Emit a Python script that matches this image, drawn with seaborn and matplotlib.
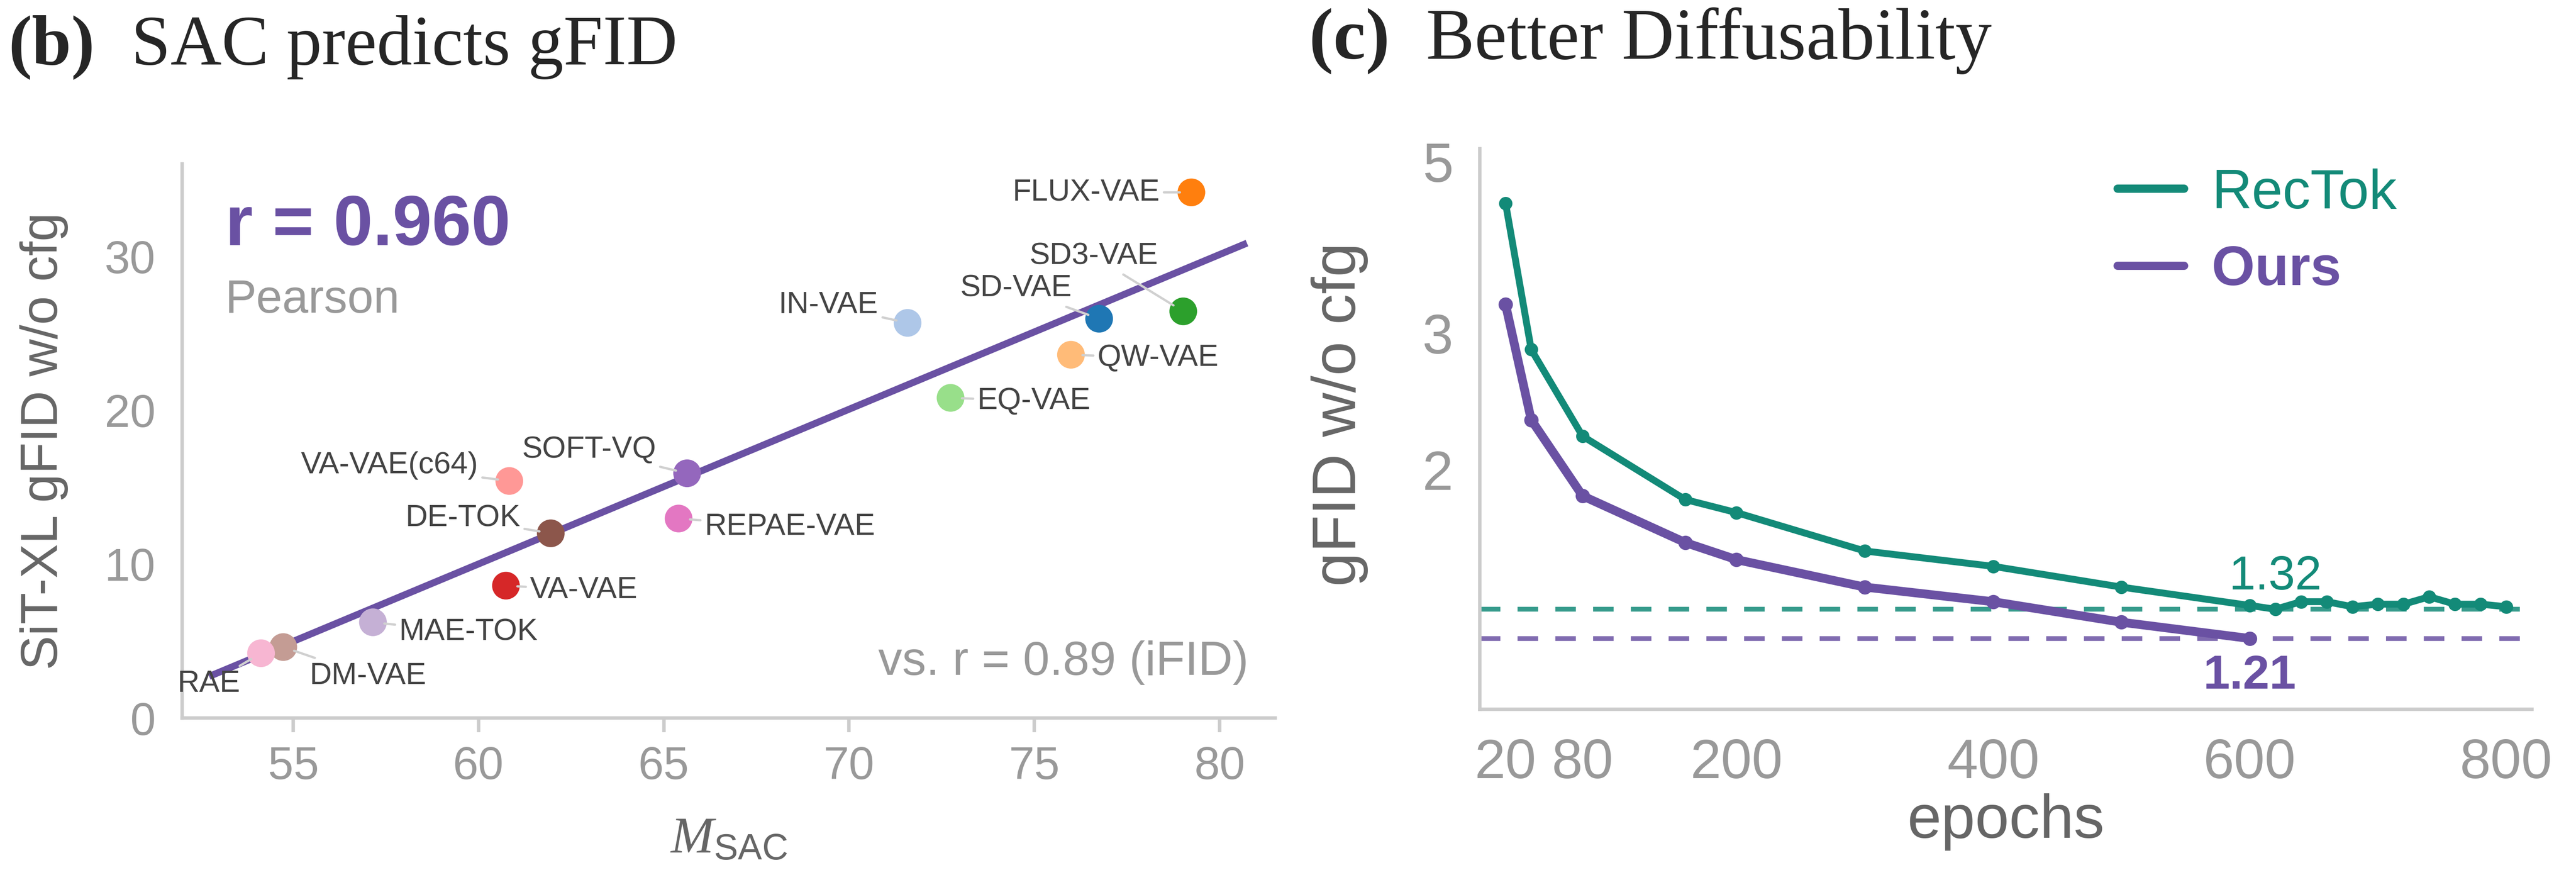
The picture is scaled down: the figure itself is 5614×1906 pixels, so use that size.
import matplotlib
matplotlib.use("Agg")
import matplotlib.pyplot as plt
from matplotlib.lines import Line2D
from matplotlib.ticker import NullLocator
import numpy as np
import pandas as pd
import seaborn as sns

# ---- panel (b): SAC vs gFID ----
names = ["SD-VAE", "IN-VAE", "FLUX-VAE", "QW-VAE", "SD3-VAE", "EQ-VAE", "VA-VAE",
         "VA-VAE(c64)", "SOFT-VQ", "MAE-TOK", "DE-TOK", "DM-VAE", "REPAE-VAE", "RAE"]
m_sac = [76.75, 71.58, 79.24, 75.99, 79.02, 72.74, 60.74,
         60.83, 65.63, 57.15, 61.95, 54.73, 65.40, 54.13]
gfid = [25.94, 25.67, 34.15, 23.6, 26.42, 20.8, 8.6,
        15.4, 15.9, 6.22, 12.0, 4.61, 12.96, 4.21]

# where each name label sits (data coords)
label_xy = {
    "FLUX-VAE": (76.4, 34.15), "SD3-VAE": (76.6, 30.0), "SD-VAE": (74.5, 27.9),
    "IN-VAE": (69.45, 26.8), "QW-VAE": (78.34, 23.4), "EQ-VAE": (74.99, 20.6),
    "SOFT-VQ": (62.98, 17.43), "REPAE-VAE": (68.4, 12.4), "VA-VAE(c64)": (57.6, 16.4),
    "DE-TOK": (59.58, 12.96), "VA-VAE": (62.84, 8.3), "MAE-TOK": (59.73, 5.55),
    "DM-VAE": (57.02, 2.72), "RAE": (52.72, 2.2),
}

# ---- panel (c): diffusability ----
epochs_rectok = [20, 40, 80, 160, 200, 300, 400, 500, 600, 620, 640, 660, 680,
                 700, 720, 740, 760, 780, 800]
gfid_rectok = [4.42, 2.86, 2.21, 1.83, 1.76, 1.57, 1.50, 1.41, 1.335, 1.32, 1.35,
               1.35, 1.33, 1.34, 1.34, 1.37, 1.34, 1.34, 1.33]
epochs_ours = [20, 40, 80, 160, 200, 300, 400, 500, 600]
gfid_ours = [3.27, 2.32, 1.85, 1.61, 1.53, 1.41, 1.35, 1.27, 1.21]
best_rectok = 1.32
best_ours = 1.21
x_ticks_c = [20, 80, 200, 400, 600, 800]
y_ticks_c = [2, 3, 5]

PURPLE = "#6a51a3"
TEAL = "#138a78"
SPINE = "#cccccc"
TICK = "#999999"
LABEL = "#666666"

sns.set_theme(style="white")
plt.rcParams["font.family"] = ["Liberation Sans", "DejaVu Sans"]
plt.rcParams["mathtext.fontset"] = "custom"
plt.rcParams["mathtext.it"] = "Liberation Serif:italic"
plt.rcParams["mathtext.rm"] = "Liberation Serif"
plt.rcParams["mathtext.sf"] = "Liberation Sans"

fig = plt.figure(figsize=(5614 / 300, 1906 / 300), dpi=300)
ax1 = fig.add_axes([0.0707, 0.1794, 0.4243, 0.6333])
ax2 = fig.add_axes([0.5745, 0.1894, 0.4084, 0.6406])

for ax in (ax1, ax2):
    for s in ("top", "right"):
        ax.spines[s].set_visible(False)
    for s in ("left", "bottom"):
        ax.spines[s].set_color(SPINE)
        ax.spines[s].set_linewidth(1.8)

# ---------- (b) ----------
df = pd.DataFrame({"name": names, "m_sac": m_sac, "gfid": gfid})
pal = dict(zip(names, sns.color_palette("tab20", len(names))))

x = np.array(m_sac)
y = np.array(gfid)
k, b = np.polyfit(x, y, 1)
xl = np.array([x.min() - 1.4, x.max() + 1.5])
ax1.plot(xl, k * xl + b, color=PURPLE, lw=3.6, zorder=2, solid_capstyle="butt")

sns.scatterplot(data=df, x="m_sac", y="gfid", hue="name", palette=pal, s=210,
                linewidth=0, legend=False, zorder=3, ax=ax1)

for n, xv, yv in zip(names, m_sac, gfid):
    tx, ty = label_xy[n]
    ax1.annotate(n, xy=(xv, yv), xytext=(tx, ty), ha="center", va="center",
                 fontsize=16, color="#444444", zorder=4,
                 arrowprops=dict(arrowstyle="-", color="#d0d0d0", lw=1.2,
                                 shrinkA=0, shrinkB=6))

ax1.set_xlim(52, 81.5)
ax1.set_ylim(0, 36)
ax1.set_xticks([55, 60, 65, 70, 75, 80])
ax1.set_yticks([0, 10, 20, 30])
ax1.tick_params(axis="x", length=7.5, width=1.8, color=SPINE, pad=7,
                labelsize=24, labelcolor=TICK, bottom=True)
ax1.tick_params(axis="y", length=0, pad=14, labelsize=24, labelcolor=TICK)
ax1.set_xlabel(r"$M_{\mathsf{SAC}}$", fontsize=27, color=LABEL)
ax1.xaxis.set_label_coords(0.5, -0.175)
ax1.set_ylabel("SiT-XL gFID w/o cfg", fontsize=27, color=LABEL)
ax1.yaxis.set_label_coords(-0.104, 0.5)

ax1.text(0.0395, 0.853, "r = 0.960", transform=ax1.transAxes, fontsize=37,
         fontweight="bold", color=PURPLE, va="baseline", ha="left")
ax1.text(0.0395, 0.7316, "Pearson", transform=ax1.transAxes, fontsize=24.5,
         color=TICK, va="baseline", ha="left")
ax1.text(0.9757, 0.078, "vs. r = 0.89 (iFID)", transform=ax1.transAxes,
         fontsize=25, color=TICK, va="baseline", ha="right")

# ---------- (c) ----------
ax2.axhline(best_rectok, color=TEAL, alpha=0.85, lw=2.5, ls=(0, (4.3, 3.6)), zorder=1)
ax2.axhline(best_ours, color=PURPLE, alpha=0.85, lw=2.5, ls=(0, (4.3, 3.6)), zorder=1)

sns.lineplot(x=epochs_rectok, y=gfid_rectok, color=TEAL, lw=3.6, marker="o",
             markersize=7, markeredgewidth=0, ax=ax2, zorder=3)
sns.lineplot(x=epochs_ours, y=gfid_ours, color=PURPLE, lw=4.6, marker="o",
             markersize=7.5, markeredgewidth=0, ax=ax2, zorder=3)

ax2.set_yscale("log")
ax2.set_xlim(0, 820)
ax2.set_ylim(0.98, 5.2)
ax2.set_xticks(x_ticks_c)
ax2.set_xticklabels([str(v) for v in x_ticks_c])
ax2.set_yticks(y_ticks_c)
ax2.set_yticklabels([str(v) for v in y_ticks_c])
ax2.yaxis.set_minor_locator(NullLocator())
ax2.tick_params(axis="x", length=0, pad=15, labelsize=29, labelcolor=TICK)
ax2.tick_params(axis="y", length=0, pad=14, labelsize=29, labelcolor=TICK)
ax2.set_xlabel("epochs", fontsize=32, color=LABEL)
ax2.xaxis.set_label_coords(0.5, -0.15)
ax2.set_ylabel("gFID w/o cfg", fontsize=32, color=LABEL)
ax2.yaxis.set_label_coords(-0.106, 0.526)

ax2.text(epochs_rectok[gfid_rectok.index(min(gfid_rectok))], 1.40, f"{best_rectok:.2f}",
         color=TEAL, fontsize=25, ha="center", va="baseline")
ax2.text(epochs_ours[-1], 1.155, f"{best_ours:.2f}", color=PURPLE, fontsize=25,
         fontweight="bold", ha="center", va="top")

handles = [Line2D([], [], color=TEAL, lw=4.3), Line2D([], [], color=PURPLE, lw=4.3)]
leg = ax2.legend(handles, ["RecTok", "Ours"], loc="upper left",
                 bbox_to_anchor=(0.606, 0.965), frameon=False, fontsize=29,
                 handlelength=1.2, handletextpad=0.5, borderpad=0,
                 borderaxespad=0, labelspacing=0.45)
leg.get_texts()[0].set_color(TEAL)
leg.get_texts()[1].set_color(PURPLE)
leg.get_texts()[1].set_fontweight("bold")

# panel titles
serif = ["Liberation Serif", "DejaVu Serif"]
fig.text(18 / 5614, 1 - 140 / 1906, "(b)", family=serif, fontweight="bold",
         fontsize=37, va="baseline", ha="left")
fig.text(286 / 5614, 1 - 140 / 1906, "SAC predicts gFID", family=serif,
         fontsize=37, va="baseline", ha="left")
fig.text(2853 / 5614, 1 - 128 / 1906, "(c)", family=serif, fontweight="bold",
         fontsize=38, va="baseline", ha="left")
fig.text(3108 / 5614, 1 - 128 / 1906, "Better Diffusability", family=serif,
         fontsize=38, va="baseline", ha="left")

fig.savefig("out.png", dpi=300)
